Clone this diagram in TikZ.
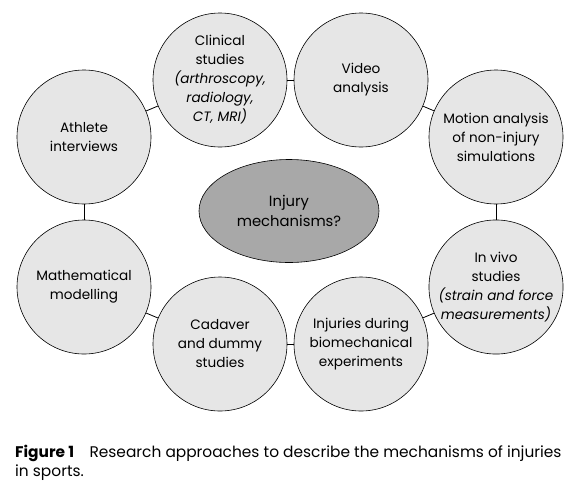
\documentclass[tikz,border=0pt]{standalone}
\usepackage{fontspec}
\setmainfont{Poppins}
\usetikzlibrary{shapes.geometric}
\definecolor{apprgray}{RGB}{230,230,230}
\definecolor{hubgray}{RGB}{168,168,168}

\begin{document}
\begin{tikzpicture}[x=1pt,y=-1pt,font=\fontsize{13.6}{19}\selectfont,
  appr/.style={circle,draw,semithick,fill=apprgray,minimum size=134pt,inner sep=0pt,align=center},
  hub/.style={ellipse,draw,semithick,fill=hubgray,minimum width=180pt,minimum height=103pt,align=center,font=\fontsize{14.8}{20}\selectfont},
  link/.style={thick}]
\useasboundingbox (0,0) rectangle (577,490);
\node[hub] (hub) at (289,211) {Injury\\mechanisms?};
\node[appr] (athlete) at (84,137) {Athlete\\interviews};
\node[appr] (clinical) at (220,80) {Clinical\\studies\\\textit{(arthroscopy,}\\\textit{radiology,}\\\textit{CT, MRI)}};
\node[appr] (video) at (361,80) {Video\\analysis};
\node[appr] (motion) at (496,137) {Motion analysis\\of non-injury\\simulations};
\node[appr] (invivo) at (496,287) {In vivo\\studies\\\textit{(strain and force}\\\textit{measurements)}};
\node[appr] (injuries) at (361,344) {Injuries during\\biomechanical\\experiments};
\node[appr] (cadaver) at (220,344) {Cadaver\\and dummy\\studies};
\node[appr] (maths) at (84,287) {Mathematical\\modelling};
\draw[link] (athlete) -- (clinical);
\draw[link] (clinical) -- (video);
\draw[link] (video) -- (motion);
\draw[link] (motion) -- (invivo);
\draw[link] (invivo) -- (injuries);
\draw[link] (injuries) -- (cadaver);
\draw[link] (cadaver) -- (maths);
\draw[link] (maths) -- (athlete);
\node[anchor=north west,align=left,inner sep=0pt,font=\fontsize{15.4}{19}\selectfont] (caption) at (15,445)
 {\textbf{Figure 1}\quad Research approaches to describe the mechanisms of injuries\\in sports.};
\end{tikzpicture}
\end{document}
